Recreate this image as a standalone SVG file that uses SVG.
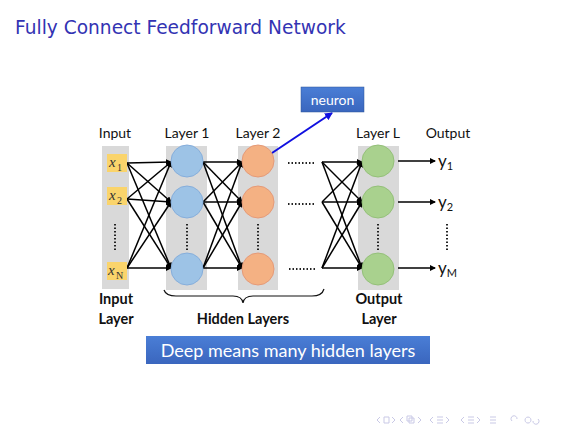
<svg xmlns="http://www.w3.org/2000/svg" width="580" height="435" viewBox="0 0 580 435">
<defs>
<style>
.lbl{font-family:Lato,"Open Sans","Liberation Sans",sans-serif;font-size:14px;fill:#111;text-anchor:middle}
.bold{font-family:Lato,"Open Sans","Liberation Sans",sans-serif;font-size:14.5px;font-weight:bold;fill:#111;text-anchor:middle}
.col{fill:#D9D9D9}
.ibox{fill:#FAD46B}
.xm{font-family:"Liberation Serif",serif;font-style:italic;font-size:15px;fill:#333}
.xs{font-family:"Liberation Serif",serif;font-size:10px;fill:#333}
.n1{fill:#9DC3E6;stroke:#86AEDB;stroke-width:1}
.n2{fill:#F4B183;stroke:#E59A78;stroke-width:1}
.nL{fill:#A9D18E;stroke:#94C079;stroke-width:1}
.e{stroke:#000;stroke-width:1.5;fill:none;marker-end:url(#ah)}
.vd{stroke:#222;stroke-width:2;stroke-dasharray:1.5 2;fill:none}
.out{font-family:Lato,"Open Sans","Liberation Sans",sans-serif;font-size:17px;fill:#111}
.sub{font-family:Lato,"Open Sans","Liberation Sans",sans-serif;font-size:11px;fill:#111}
.nav{fill:none;stroke:#C9C9E6;stroke-width:1}
</style>
<marker id="ah" markerWidth="6" markerHeight="6" refX="5" refY="3" orient="auto" markerUnits="userSpaceOnUse">
<path d="M0,0 L6,3 L0,6 Z" fill="#000"/>
</marker>
<marker id="bh" markerWidth="8" markerHeight="8" refX="7" refY="4" orient="auto" markerUnits="userSpaceOnUse">
<path d="M0,0 L8,4 L0,8 Z" fill="#1010E0"/>
</marker>
<linearGradient id="bg" x1="0" y1="0" x2="0" y2="1">
<stop offset="0" stop-color="#4A7ED6"/>
<stop offset="1" stop-color="#3A66BE"/>
</linearGradient>
</defs>

<text x="15" y="34" font-family="'DejaVu Sans','Liberation Sans',sans-serif" font-size="18.6" fill="#3333B3">Fully Connect Feedforward Network</text>

<g id="columns">
<rect class="col" x="102" y="146" width="27" height="143"/>
<rect class="col" x="166" y="146" width="41" height="144"/>
<rect class="col" x="238" y="146" width="40" height="144"/>
<rect class="col" x="358" y="146" width="41" height="144"/>
</g>

<g id="labels">
<text class="lbl" x="115" y="138">Input</text>
<text class="lbl" x="187" y="138">Layer 1</text>
<text class="lbl" x="258" y="138">Layer 2</text>
<text class="lbl" x="378" y="138">Layer L</text>
<text class="lbl" x="448" y="138">Output</text>
</g>

<g id="connectors">
<path class="e" d="M127,163 L171,162"/>
<path class="e" d="M127,163 L171,202"/>
<path class="e" d="M127,163 L171,268"/>
<path class="e" d="M127,199 L171,162"/>
<path class="e" d="M127,199 L171,202"/>
<path class="e" d="M127,199 L171,268"/>
<path class="e" d="M127,268 L171,162"/>
<path class="e" d="M127,268 L171,202"/>
<path class="e" d="M127,268 L171,268"/>

<path class="e" d="M203,162 L242,162"/>
<path class="e" d="M203,162 L242,202"/>
<path class="e" d="M203,162 L242,268"/>
<path class="e" d="M203,202 L242,162"/>
<path class="e" d="M203,202 L242,202"/>
<path class="e" d="M203,202 L242,268"/>
<path class="e" d="M203,268 L242,162"/>
<path class="e" d="M203,268 L242,202"/>
<path class="e" d="M203,268 L242,268"/>

<path class="e" d="M322,162 L362,162"/>
<path class="e" d="M322,162 L362,202"/>
<path class="e" d="M322,162 L362,268"/>
<path class="e" d="M322,202 L362,162"/>
<path class="e" d="M322,202 L362,202"/>
<path class="e" d="M322,202 L362,268"/>
<path class="e" d="M322,268 L362,162"/>
<path class="e" d="M322,268 L362,202"/>
<path class="e" d="M322,268 L362,268"/>

<path class="e" d="M398,161 L435,161"/>
<path class="e" d="M398,202 L435,202"/>
<path class="e" d="M398,268 L435,268"/>

<path d="M257,163 L332,113" stroke="#1010E0" stroke-width="2" fill="none" marker-end="url(#bh)"/>
</g>

<g id="input-nodes">
<g id="x1"><rect class="ibox" x="107" y="154" width="20" height="18"/><text class="xm" x="109" y="167">x</text><text class="xs" x="117" y="171">1</text></g>
<g id="x2"><rect class="ibox" x="107" y="187" width="20" height="18"/><text class="xm" x="109" y="200">x</text><text class="xs" x="117" y="204">2</text></g>
<g id="xN"><rect class="ibox" x="107" y="262" width="20" height="18"/><text class="xm" x="108" y="275">x</text><text class="xs" x="116" y="279">N</text></g>
<path class="vd" d="M115,224 L115,250"/>
</g>

<g id="layer1">
<circle class="n1" cx="187" cy="161" r="16"/>
<circle class="n1" cx="187" cy="202" r="16"/>
<circle class="n1" cx="187" cy="269" r="16"/>
<path class="vd" d="M187,224 L187,250"/>
</g>

<g id="layer2">
<circle class="n2" cx="258" cy="161" r="16"/>
<circle class="n2" cx="258" cy="202" r="16"/>
<circle class="n2" cx="258" cy="269" r="16"/>
<path class="vd" d="M258,224 L258,250"/>
</g>

<g id="hdots">
<path class="vd" d="M288,163 L314,163"/>
<path class="vd" d="M288,204 L314,204"/>
<path class="vd" d="M289,269 L315,269"/>
</g>

<g id="layerL">
<circle class="nL" cx="378" cy="161" r="16"/>
<circle class="nL" cx="378" cy="202" r="16"/>
<circle class="nL" cx="378" cy="269" r="16"/>
<path class="vd" d="M378,224 L378,250"/>
</g>

<g id="outputs">
<text class="out" x="438" y="167">y<tspan class="sub" dy="3">1</tspan></text>
<text class="out" x="438" y="208">y<tspan class="sub" dy="3">2</tspan></text>
<text class="out" x="438" y="274">y<tspan class="sub" dy="3">M</tspan></text>
<path class="vd" d="M447,224 L447,250"/>
</g>

<g id="neuron">
<rect x="301" y="87" width="63" height="25" fill="url(#bg)" stroke="#2F5597" stroke-width="0.5"/>
<text x="332.5" y="104.5" font-family="Lato,'Open Sans','Liberation Sans',sans-serif" font-size="14" fill="#fff" text-anchor="middle">neuron</text>
</g>

<g id="brace">
<path d="M164,290 Q166,296 176,296 L233,296 Q242,296 243,303 Q244,296 253,296 L312,296 Q322,296 324,289" fill="none" stroke="#111" stroke-width="1.2"/>
</g>

<g id="bottom-labels">
<text class="bold" x="116" y="304">Input</text>
<text class="bold" x="116" y="324">Layer</text>
<text class="bold" x="243" y="324">Hidden Layers</text>
<text class="bold" x="379" y="304">Output</text>
<text class="bold" x="379" y="324">Layer</text>
</g>

<g id="deep">
<rect x="146" y="336" width="284" height="28" fill="url(#bg)"/>
<text x="288" y="357" font-family="Lato,'Open Sans','Liberation Sans',sans-serif" font-size="18" fill="#fff" text-anchor="middle">Deep means many hidden layers</text>
</g>

<g id="navigation">
<path class="nav" d="M380,423 L377,420 L380,417 M384,417 h5 v6 h-5 z M392,417 L395,420 L392,423"/>
<path class="nav" d="M403,423 L400,420 L403,417 M407,416 h5 v5 h-5 z M409,418 h5 v5 h-5 z M418,417 L421,420 L418,423"/>
<path class="nav" d="M433,423 L430,420 L433,417 M437,417 h6 M437,420 h6 M437,423 h6 M446,417 L449,420 L446,423"/>
<path class="nav" d="M464,423 L461,420 L464,417 M468,417 h6 M468,420 h6 M468,423 h6 M477,417 L480,420 L477,423"/>
<path class="nav" d="M490,417 h6 M490,420 h6 M490,423 h6"/>
<path class="nav" d="M512,421 a3,3 0 1 1 5,-2 M525,420 a3,3 0 1 1 0,0.1 M533,421 a3,3 0 1 0 5,-2"/>
</g>
</svg>
